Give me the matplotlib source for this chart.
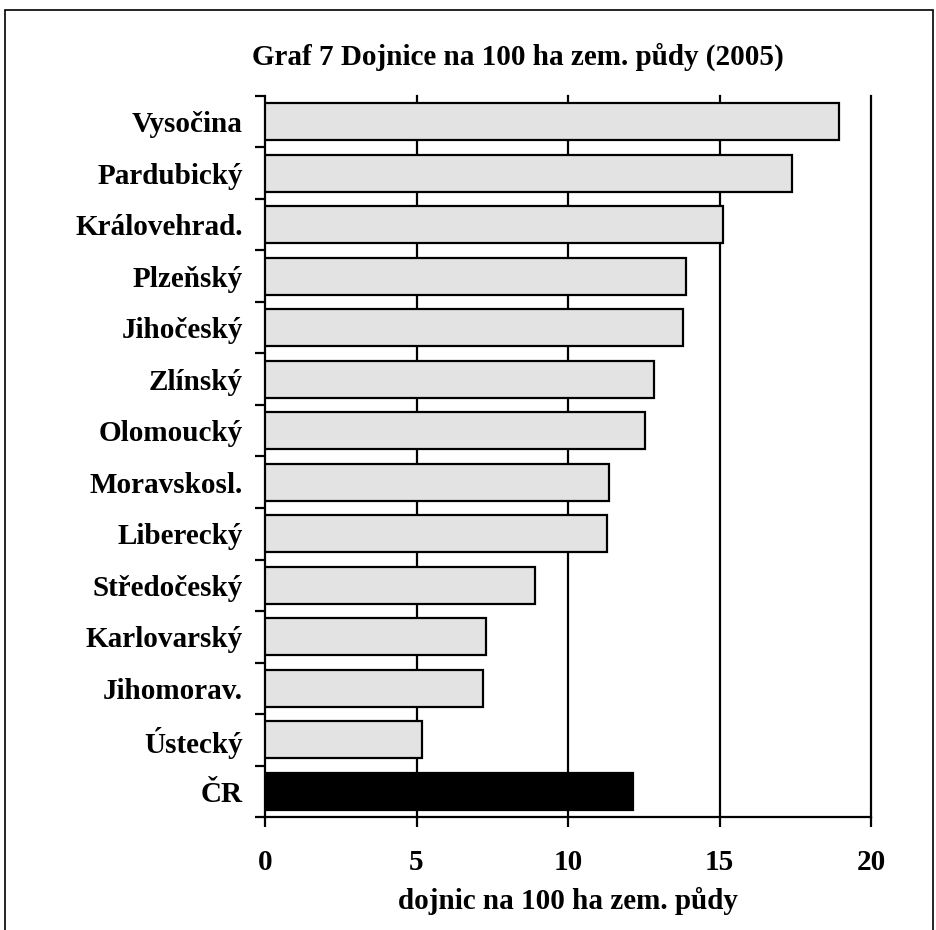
import numpy as np
import matplotlib
matplotlib.use('Agg')
import matplotlib.pyplot as plt
from matplotlib.patches import Rectangle

## Data (top to bottom as drawn)
regions = ['Vysočina', 'Pardubický', 'Královehrad.', 'Plzeňský', 'Jihočeský', 'Zlínský',
           'Olomoucký', 'Moravskosl.', 'Liberecký', 'Středočeský', 'Karlovarský',
           'Jihomorav.', 'Ústecký', 'ČR']
cows = [18.96, 17.40, 15.11, 13.90, 13.79, 12.85, 12.55, 11.34, 11.30, 8.92, 7.30, 7.21, 5.17, 12.16]
x_ticks = [0, 5, 10, 15, 20]

plt.rcParams['font.family'] = ['Liberation Serif', 'DejaVu Serif']
plt.rcParams['font.weight'] = 'bold'
fs = 21

fig = plt.figure(figsize=(9.36, 9.30), dpi=100)
W, H = 936, 930
ax = fig.add_axes([265 / W, 1 - 817 / H, (871 - 265) / W, (817 - 96) / H])

n = len(regions)
ypos = np.arange(n)[::-1]
colors = ['#e3e3e3'] * (n - 1) + ['black']
ax.barh(ypos, cows, height=0.71, color=colors, edgecolor='black', linewidth=1.6, zorder=3)

ax.set_xlim(0, 20)
ax.set_ylim(-0.5, n - 0.5)
ax.set_xticks(x_ticks)
ax.set_xticklabels([str(t) for t in x_ticks], fontsize=fs, fontweight='bold')
for t in x_ticks[1:]:
    ax.axvline(t, color='black', linewidth=1.6, zorder=1, clip_on=False)

# category labels centred on bars, tick marks between bars
ax.set_yticks(ypos)
ax.set_yticklabels(regions, fontsize=fs, fontweight='bold')
ax.tick_params(axis='y', length=0, pad=16)
ax.set_yticks(np.arange(-0.5, n, 1.0), minor=True)
ax.tick_params(axis='y', which='minor', length=7, width=1.6, direction='out')
ax.tick_params(axis='x', length=7, width=1.6, direction='out', pad=16)

for s in ['top', 'right']:
    ax.spines[s].set_visible(False)
for s in ['left', 'bottom']:
    ax.spines[s].set_linewidth(1.6)

ax.set_xlabel('dojnic na 100 ha zem. půdy', fontsize=fs, fontweight='bold', labelpad=8)
fig.text(518 / W, 1 - 57 / H, 'Graf 7 Dojnice na 100 ha zem. půdy (2005)',
         ha='center', va='center', fontsize=fs, fontweight='bold')

# outer frame
fig.patches.append(Rectangle((5 / W, -0.01), (933 - 5) / W, 1 - 10 / H + 0.01,
                             transform=fig.transFigure, fill=False,
                             edgecolor='black', linewidth=1.2))

fig.savefig('out.png', dpi=100)
